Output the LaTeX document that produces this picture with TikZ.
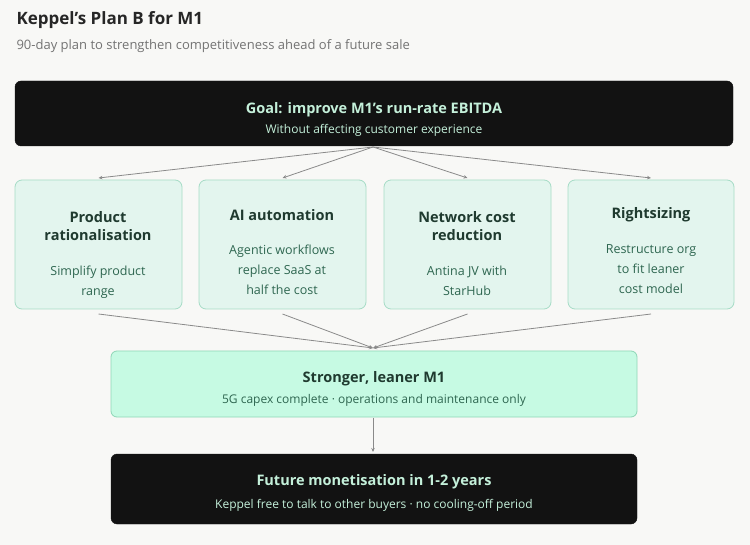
\documentclass[tikz,border=0pt]{standalone}
\usepackage{fontspec}
\setmainfont{Open Sans}
\usetikzlibrary{arrows.meta}
\definecolor{bg}{HTML}{F8F8F6}
\definecolor{card}{HTML}{E3F5EE}
\definecolor{cardb}{HTML}{A6DCC6}
\definecolor{mid}{HTML}{C6FAE3}
\definecolor{midb}{HTML}{8ED6B6}
\definecolor{dk}{HTML}{121212}
\definecolor{lg}{HTML}{C4F0DA}
\definecolor{ttl}{HTML}{1F3A2F}
\definecolor{dsc}{HTML}{2E6650}
\definecolor{conn}{HTML}{8A8A8A}
\begin{document}
\begin{tikzpicture}[x=1pt,y=-1pt,
  darkbox/.style={fill=dk,draw=dk,rounded corners=6pt},
  cardbox/.style={fill=card,draw=cardb,line width=0.8pt,rounded corners=7pt},
  midbox/.style={fill=mid,draw=midb,line width=0.8pt,rounded corners=6pt},
  conn/.style={draw=conn,line width=0.8pt,-{Stealth[length=4pt,width=3.5pt]}},
  ctitle/.style={font=\fontsize{14.5}{18}\selectfont\bfseries,text=ttl,align=center},
  cdesc/.style={font=\fontsize{12.5}{20}\selectfont,text=dsc,align=center}]
\fill[bg] (0,0) rectangle (750,545);
\useasboundingbox (0,0) rectangle (750,545);
\node[anchor=base west,font=\fontsize{17}{20}\selectfont\bfseries,text=black!85] (title) at (13,25) {Keppel's Plan B for M1};
\node[anchor=base west,font=\fontsize{13}{16}\selectfont,text=black!55] (sub) at (13,50) {90-day plan to strengthen competitiveness ahead of a future sale};
% goal
\draw[darkbox] (15,81) rectangle (733,146);
\node[font=\fontsize{14.5}{18}\selectfont\bfseries,text=lg] (g1) at (374,110) {Goal: improve M1's run-rate EBITDA};
\node[font=\fontsize{12}{15}\selectfont,text=lg] (g2) at (374,130) {Without affecting customer experience};
\coordinate (gb) at (373,147);
% cards
\foreach \n/\l/\r in {a/15/182, b/199/366, c/384/551, d/568/734}{
  \draw[cardbox] (\l,180) rectangle (\r,309);
  \coordinate (\n top) at ({(\l+\r)/2},178);
  \coordinate (\n bot) at ({(\l+\r)/2},314);
}
\node[ctitle] (at) at (98,226) {Product\\rationalisation};
\node[cdesc,anchor=north] (ad) at (98,262) {Simplify product\\range};
\node[ctitle] (bt) at (282,215) {AI automation};
\node[cdesc,anchor=north] (bd) at (282,241) {Agentic workflows\\replace SaaS at\\half the cost};
\node[ctitle] (ct) at (467,226) {Network cost\\reduction};
\node[cdesc,anchor=north] (cd) at (467,262) {Antina JV with\\StarHub};
\node[ctitle] (dt) at (651,215) {Rightsizing};
\node[cdesc,anchor=north] (dd) at (651,241) {Restructure org\\to fit leaner\\cost model};
\foreach \n in {a,b,c,d}{\draw[conn] (gb) -- (\n top);}
% middle
\draw[midbox] (111,351) rectangle (637,417);
\node[font=\fontsize{14.5}{18}\selectfont\bfseries,text=ttl] (m1) at (374,379) {Stronger, leaner M1};
\node[font=\fontsize{12}{15}\selectfont,text=dsc] (m2) at (374,400) {5G capex complete · operations and maintenance only};
\coordinate (mt) at (373,348);
\foreach \n in {a,b,c,d}{\draw[conn] (\n bot) -- (mt);}
% bottom
\draw[darkbox] (111,454) rectangle (637,524);
\node[font=\fontsize{14.5}{18}\selectfont\bfseries,text=lg] (f1) at (374,482) {Future monetisation in 1-2 years};
\node[font=\fontsize{12}{15}\selectfont,text=lg] (f2) at (374,505) {Keppel free to talk to other buyers · no cooling-off period};
\coordinate (mb) at (373,417.5);
\coordinate (ft) at (373,452);
\draw[conn] (mb) -- (ft);
\end{tikzpicture}
\end{document}
